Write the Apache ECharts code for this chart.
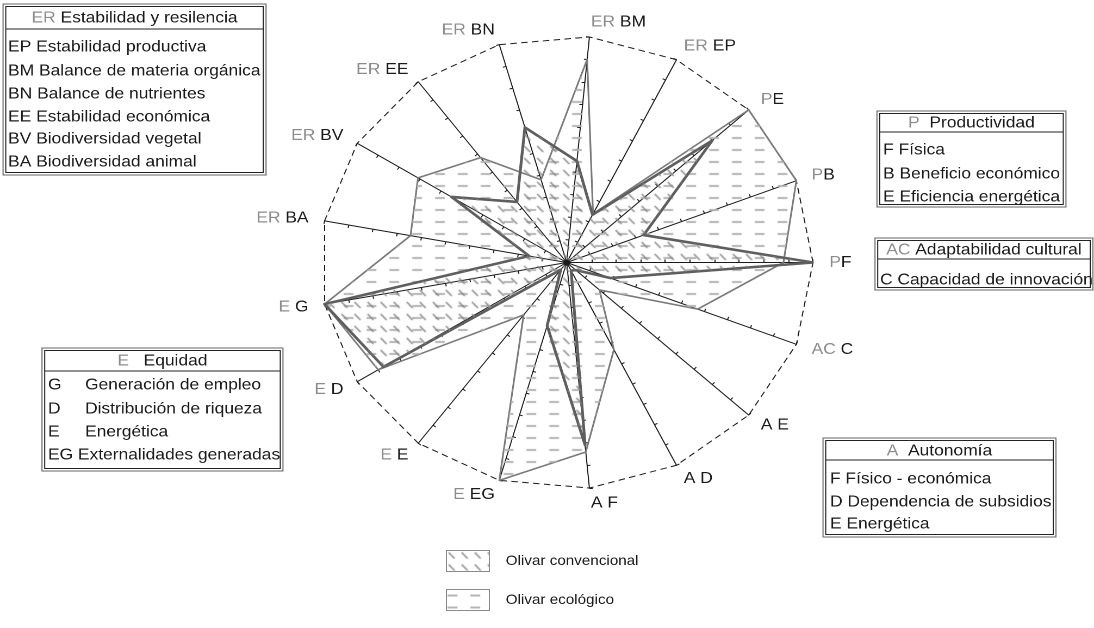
<!DOCTYPE html>
<html><head><meta charset="utf-8">
<script src="https://cdn.jsdelivr.net/npm/echarts@6.0.0/dist/echarts.min.js"></script>
<style>
html,body{margin:0;padding:0;background:#fff;overflow:hidden}
#wrap{width:1094px;height:628px;overflow:hidden;position:relative;background:#fff}
#c{width:1006px;height:628px;transform:scaleX(1.08748);transform-origin:0 0}
</style></head><body><div id="wrap"><div id="c"></div></div>
<script>
// ---- data ----
const axisGroups = ['P','P','P','ER','ER','ER','ER','ER','ER','E','E','E','E','A','A','A','AC'];
const axisCodes  = ['F','B','E','EP','BM','BN','EE','BV','BA','G','D','E','EG','F','D','E','C'];
const axisMax = 10;
const seriesNames = ['Olivar convencional', 'Olivar ecológico'];
const convencional = [10, 3.35, 8.0, 2.35, 4.5, 6.2, 3.35, 5.5, 1.55, 10, 8.75, 0.4, 2.9, 8.1, 0.4, 0.5, 1.9];
const ecologico    = [8.8, 10, 10, 2.4, 9.0, 3.8, 5.8, 7.1, 6.45, 10, 9.0, 2.9, 10, 8.4, 4.3, 1.8, 5.7];

// ---- styles ----
const FONT = '"Liberation Sans", Arial, sans-serif';
const GREY = '#8c8c8c', INK = '#1a1a1a';

function makePattern(w, h, draw) {
  const c = document.createElement('canvas');
  c.width = w; c.height = h;
  draw(c.getContext('2d'));
  return { image: c, repeat: 'repeat' };
}
const convPattern = makePattern(12, 12, ctx => {
  ctx.strokeStyle = '#858585'; ctx.lineWidth = 1.2;
  ctx.beginPath(); ctx.moveTo(2, 2); ctx.lineTo(7.5, 8); ctx.stroke();
});
const ecoPattern = makePattern(21, 12, ctx => {
  ctx.strokeStyle = '#b4b4b4'; ctx.lineWidth = 2;
  ctx.beginPath(); ctx.moveTo(1, 6); ctx.lineTo(10, 6); ctx.stroke();
});

const indicatorNames = axisGroups.map((g, i) => g + ' ' + axisCodes[i]);
const indicators = indicatorNames.map(n => ({ name: n, min: 0, max: axisMax }));
const ringColors = [];
for (let i = 0; i < axisMax; i++) ringColors.push('rgba(0,0,0,0)');
ringColors.push(INK);

function nameFormatter(name) {
  const parts = name.split(' ');
  const g = parts[0], c = parts[1];
  if (g === 'P') return '{g|P}{b|' + c + '}';
  if (g === 'A') return '{b|A} {b|' + c + '}';
  return '{g|' + g + '} {b|' + c + '}';
}

// ---- boxes (annotation panels) ----
function richStyle(size) {
  return {
    g: { fill: GREY, fontSize: size, fontFamily: FONT },
    b: { fill: INK, fontSize: size, fontFamily: FONT }
  };
}
function txt(x, y, text, align) {
  return { type: 'text', x: x, y: y, silent: true,
    style: { text: text, rich: richStyle(16), fill: INK, fontSize: 16, fontFamily: FONT,
      align: align || 'left', verticalAlign: 'middle', textAlign: align || 'left', textVerticalAlign: 'middle' } };
}
function box(x1, y1, x2, y2, headerText, headerY, lineY, rows) {
  const ch = [
    { type: 'rect', shape: { x: x1, y: y1, width: x2 - x1, height: y2 - y1 }, style: { fill: '#fff', stroke: '#666', lineWidth: 1 } },
    { type: 'rect', shape: { x: x1 + 2.5, y: y1 + 2.5, width: x2 - x1 - 5, height: y2 - y1 - 5 }, style: { fill: 'none', stroke: '#222', lineWidth: 1 } },
    { type: 'line', shape: { x1: x1 + 2.5, y1: lineY, x2: x2 - 2.5, y2: lineY }, style: { stroke: '#222', lineWidth: 1 } },
    txt((x1 + x2) / 2, headerY, headerText, 'center')
  ];
  rows.forEach(r => ch.push(txt(r[0], r[1], r[2])));
  return { type: 'group', children: ch };
}
const graphics = [
  box(2.8, 4, 244.6, 175, '{g|ER}{b| Estabilidad y resilencia}', 18, 29, [
    [7.4, 47, 'EP Estabilidad productiva'],
    [7.4, 71, 'BM Balance de materia orgánica'],
    [7.4, 94, 'BN Balance de nutrientes'],
    [7.4, 117, 'EE Estabilidad económica'],
    [7.4, 139, 'BV Biodiversidad vegetal'],
    [7.4, 162, 'BA Biodiversidad animal']
  ]),
  box(806.4, 111, 980.2, 207, '{g|P}{b|  Productividad}', 123, 132, [
    [812, 150, 'F Física'],
    [812, 174, 'B Beneficio económico'],
    [812, 197, 'E Eficiencia energética']
  ]),
  box(804.6, 238, 1005, 290, '{g|AC}{b| Adaptabilidad cultural}', 250, 259, [
    [809.2, 280, 'C Capacidad de innovación']
  ]),
  box(756.8, 438, 971, 537, '{g|A}{b|  Autonomía}', 451, 460, [
    [763.2, 479, 'F Físico - económica'],
    [763.2, 502, 'D Dependencia de subsidios'],
    [763.2, 524, 'E Energética']
  ]),
  box(38.6, 348, 260.2, 471, '{g|E}{b|   Equidad}', 361, 371, [
    [44.1, 385, 'G'], [78.2, 385, 'Generación de empleo'],
    [44.1, 409, 'D'], [78.2, 409, 'Distribución de riqueza'],
    [44.1, 432, 'E'], [78.2, 432, 'Energética'],
    [44.1, 455, 'EG Externalidades generadas']
  ])
];

const radarBase = {
  center: [521.1, 262.5], radius: 226.5, startAngle: 0,
  splitNumber: 10, shape: 'polygon',
  indicator: indicators,
  axisLabel: { show: false },
  splitArea: { show: false }
};

const chart = echarts.init(document.getElementById('c'), null, { devicePixelRatio: 2 });
chart.setOption({
  animation: false,
  backgroundColor: '#fff',
  legend: {
    data: seriesNames,
    orient: 'vertical', left: 405, top: 545,
    itemWidth: 39.5, itemHeight: 21, itemGap: 17,
    icon: 'rect',
    itemStyle: { borderColor: '#8a8a8a', borderWidth: 1 },
    textStyle: { fontSize: 14, fontFamily: FONT, color: INK, padding: [0, 0, 0, 10] },
    selectedMode: false
  },
  radar: [
    Object.assign({}, radarBase, {
      axisNameGap: 15,
      axisName: {
        formatter: nameFormatter,
        fontSize: 16, fontFamily: FONT,
        rich: {
          g: { color: GREY, fontSize: 16, fontFamily: FONT },
          b: { color: INK, fontSize: 16, fontFamily: FONT }
        }
      },
      axisLine: { lineStyle: { color: INK, width: 1 } },
      axisTick: { show: true, length: 3, lineStyle: { color: INK, width: 1 } },
      splitLine: { show: true, lineStyle: { color: ringColors, width: 1, type: [6, 4] } }
    }),
    Object.assign({}, radarBase, {
      axisName: { show: false },
      axisLine: { show: false },
      axisTick: { show: true, inside: true, length: 3, lineStyle: { color: INK, width: 1 } },
      splitLine: { show: false }
    })
  ],
  series: [{
    type: 'radar',
    radarIndex: 0,
    symbol: 'none',
    data: [
      { name: seriesNames[1], value: ecologico,
        itemStyle: { color: ecoPattern },
        lineStyle: { color: '#7a7a7a', width: 1.6 },
        areaStyle: { color: ecoPattern, opacity: 1 } },
      { name: seriesNames[0], value: convencional,
        itemStyle: { color: convPattern },
        lineStyle: { color: '#5e5e5e', width: 2.6 },
        areaStyle: { color: convPattern, opacity: 1 } }
    ]
  }],
  graphic: graphics
});
</script></body></html>
